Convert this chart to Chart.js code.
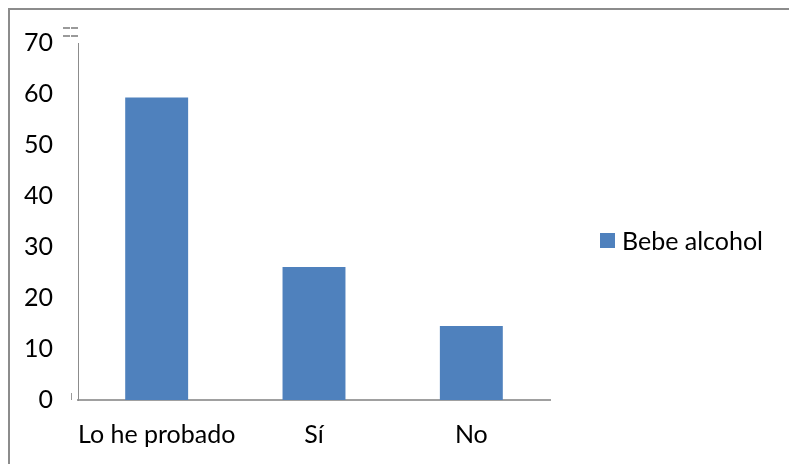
<!DOCTYPE html>
<html>
<head>
<meta charset="utf-8">
<script src="https://cdn.jsdelivr.net/npm/chart.js@4"></script>
<style>
    html, body { margin: 0; padding: 0; background: #fff; }
    .chart-wrap { position: relative; width: 789px; height: 464px; overflow: hidden; }
    .chart-wrap__frame {
        position: absolute; left: 8px; top: 8px; width: 900px; height: 600px;
        border-top: 2px solid #8c8c8c; border-left: 2px solid #8c8c8c;
    }
    .chart-wrap canvas { position: absolute; left: 0; top: 0; }
    .legend {
        position: absolute; left: 600px; top: 223px; height: 34px;
        font-family: Lato, "Open Sans", sans-serif; font-size: 25px; color: #000;
        display: flex; align-items: center;
    }
    .legend__box { width: 15px; height: 15px; background: #4F81BD; margin-right: 7px; }
</style>
</head>
<body>
<div class="chart-wrap">
    <div class="chart-wrap__frame"></div>
    <canvas id="chart" width="789" height="464"></canvas>
    <div class="legend"><span class="legend__box"></span><span id="legend-label"></span></div>
</div>
<script>
const categories = ['Lo he probado', 'Sí', 'No'];
const seriesName = 'Bebe alcohol';
const seriesValues = [59.3, 26.1, 14.5];
const yTicks = [0, 10, 20, 30, 40, 50, 60, 70];

const BAR_COLOR = '#4F81BD';
const AXIS_COLOR = '#a0a0a0';
const FONT = { family: 'Lato, "Open Sans", sans-serif', size: 25 };

document.getElementById('legend-label').textContent = seriesName;

// pequeños restos grises del original junto al eje
const axisMarks = {
    id: 'axisMarks',
    afterDraw(chart) {
        const { ctx, chartArea } = chart;
        ctx.save();
        ctx.fillStyle = '#9a9a9a';
        const x = chartArea.left;
        const y = chartArea.top;
        ctx.fillRect(x - 15, y - 16, 7, 2);
        ctx.fillRect(x - 7, y - 16, 7, 2);
        ctx.fillRect(x - 15, y - 8, 7, 2);
        ctx.fillRect(x - 7, y - 8, 7, 2);
        ctx.fillRect(x - 7, chartArea.bottom - 7, 1, 7);
        ctx.restore();
    }
};

new Chart(document.getElementById('chart').getContext('2d'), {
    type: 'bar',
    data: {
        labels: categories,
        datasets: [{
            label: seriesName,
            data: seriesValues,
            backgroundColor: BAR_COLOR,
            borderWidth: 0,
            categoryPercentage: 0.4,
            barPercentage: 1
        }]
    },
    options: {
        responsive: false,
        animation: false,
        layout: { padding: { left: 0, top: 43, right: 239, bottom: 0 } },
        plugins: {
            legend: { display: false },
            tooltip: { enabled: false }
        },
        scales: {
            x: {
                grid: { display: false },
                border: { display: true, color: AXIS_COLOR, width: 2 },
                ticks: {
                    color: '#000', font: FONT, padding: 12,
                    maxRotation: 0, minRotation: 0, autoSkip: false
                },
                afterFit(scale) {
                    scale.height = 64;
                    scale.paddingLeft = 0;
                    scale.paddingRight = 0;
                }
            },
            y: {
                min: 0,
                max: 70,
                grid: { display: false },
                border: { display: true, color: '#8c8c8c', width: 1 },
                afterBuildTicks(scale) { scale.ticks = yTicks.map(v => ({ value: v })); },
                ticks: { color: '#000', font: FONT, padding: 17 },
                afterFit(scale) { scale.width = 78; }
            }
        }
    },
    plugins: [axisMarks]
});
</script>
</body>
</html>
